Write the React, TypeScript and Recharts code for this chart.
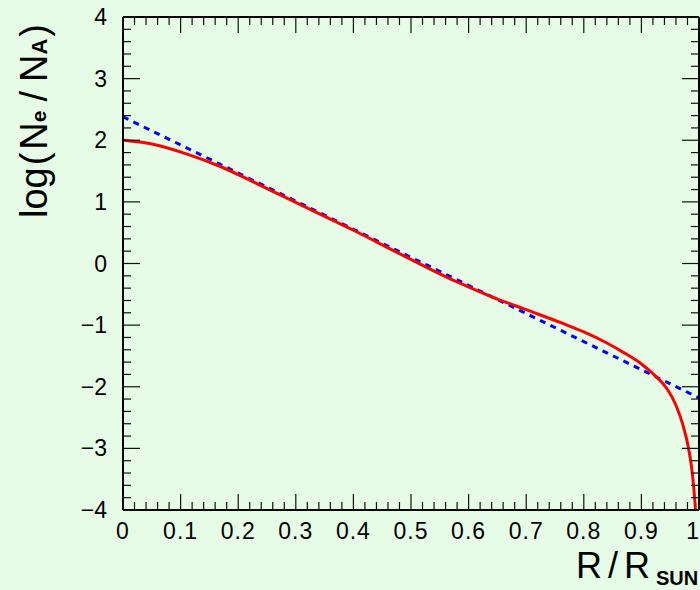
import React from 'react';
import { LineChart, Line, XAxis, YAxis } from 'recharts';

// electron density profile (log10 Ne/NA) vs fractional solar radius
const redR = [0, 0.05, 0.11, 0.17, 0.225, 0.28, 0.34, 0.4, 0.48, 0.58, 0.64, 0.7, 0.76, 0.8, 0.84, 0.87, 0.9, 0.926, 0.945, 0.96, 0.972, 0.981, 0.987, 0.991, 0.994];
const redLog = [2.0, 1.94, 1.78, 1.57, 1.33, 1.08, 0.81, 0.54, 0.16, -0.3, -0.54, -0.75, -0.96, -1.11, -1.29, -1.45, -1.63, -1.84, -2.04, -2.3, -2.62, -2.96, -3.3, -3.65, -4.0];

// exponential approximation (straight line in log)
const blueR = [0, 1];
const blueLog = [2.38, -2.18];

const xMajorTicks = [0, 0.1, 0.2, 0.3, 0.4, 0.5, 0.6, 0.7, 0.8, 0.9, 1];
const xLabels = ['0', '0.1', '0.2', '0.3', '0.4', '0.5', '0.6', '0.7', '0.8', '0.9', '1'];
const yMajorTicks = [-4, -3, -2, -1, 0, 1, 2, 3, 4];
const yLabels = ['\u22124', '\u22123', '\u22122', '\u22121', '0', '1', '2', '3', '4'];

const redData = redR.map((r, i) => ({ r, v: redLog[i] }));
const blueData = blueR.map((r, i) => ({ r, v: blueLog[i] }));

// minor ticks every 0.02 on x, every 0.2 on y
const xAllTicks = Array.from({ length: 51 }, (_, i) => Math.round(i * 2) / 100);
const yAllTicks = Array.from({ length: 41 }, (_, i) => Math.round((-4 + i * 0.2) * 10) / 10);

const BG = '#e6fce6';
const FONT = '"Liberation Sans", Arial, Helvetica, sans-serif';
const TICK = '#111';

const majorIndex = (list: number[], v: number) => list.findIndex((m) => Math.abs(m - v) < 1e-6);

const BottomTick = (props: any) => {
  const { x, y, payload } = props;
  const idx = majorIndex(xMajorTicks, payload.value);
  const len = idx >= 0 ? 16 : 8;
  const last = idx === xMajorTicks.length - 1;
  return (
    <g>
      <line x1={x} x2={x} y1={y} y2={y - len} stroke={TICK} strokeWidth={1.2} />
      {idx >= 0 && (
        <text
          x={last ? 700 : x}
          y={y + 29}
          textAnchor={last ? 'end' : 'middle'}
          fontSize={23}
          letterSpacing={1}
          fontFamily={FONT}
          fill="#000"
        >
          {xLabels[idx]}
        </text>
      )}
    </g>
  );
};

const TopTick = (props: any) => {
  const { x, y, payload } = props;
  const len = majorIndex(xMajorTicks, payload.value) >= 0 ? 16 : 8;
  return <line x1={x} x2={x} y1={y} y2={y + len} stroke={TICK} strokeWidth={1.2} />;
};

const LeftTick = (props: any) => {
  const { x, y, payload } = props;
  const idx = majorIndex(yMajorTicks, payload.value);
  const len = idx >= 0 ? 17 : 8;
  return (
    <g>
      <line x1={x} x2={x + len} y1={y} y2={y} stroke={TICK} strokeWidth={1.2} />
      {idx >= 0 && (
        <text x={x - 16} y={y + 8} textAnchor="end" fontSize={23} fontFamily={FONT} fill="#000">
          {yLabels[idx]}
        </text>
      )}
    </g>
  );
};

const RightTick = (props: any) => {
  const { x, y, payload } = props;
  const len = majorIndex(yMajorTicks, payload.value) >= 0 ? 17 : 8;
  return <line x1={x} x2={x - len} y1={y} y2={y} stroke={TICK} strokeWidth={1.2} />;
};

const frame = { stroke: '#000', strokeWidth: 2 };

export default function App() {
  return (
    <div style={{ position: 'absolute', left: 0, top: 0, width: 700, height: 590, background: BG, overflow: 'hidden' }}>
      <LineChart width={700} height={590} margin={{ top: 0, right: 0, bottom: 0, left: 0 }}>
        <XAxis
          dataKey="r"
          type="number"
          domain={[0, 1]}
          ticks={xAllTicks}
          interval={0}
          tickSize={0}
          tickMargin={0}
          tickLine={false}
          axisLine={frame}
          tick={<BottomTick />}
          height={80}
          allowDataOverflow
        />
        <XAxis
          xAxisId="top"
          orientation="top"
          dataKey="r"
          type="number"
          domain={[0, 1]}
          ticks={xAllTicks}
          interval={0}
          tickSize={0}
          tickMargin={0}
          tickLine={false}
          axisLine={frame}
          tick={<TopTick />}
          height={17}
          allowDataOverflow
        />
        <YAxis
          type="number"
          domain={[-4, 4]}
          ticks={yAllTicks}
          interval={0}
          tickSize={0}
          tickMargin={0}
          tickLine={false}
          axisLine={frame}
          tick={<LeftTick />}
          width={123}
          allowDataOverflow
        />
        <YAxis
          yAxisId="right"
          orientation="right"
          type="number"
          domain={[-4, 4]}
          ticks={yAllTicks}
          interval={0}
          tickSize={0}
          tickMargin={0}
          tickLine={false}
          axisLine={frame}
          tick={<RightTick />}
          width={1}
          allowDataOverflow
        />
        <Line
          data={blueData}
          dataKey="v"
          type="linear"
          stroke="#0000ff"
          strokeWidth={3}
          strokeDasharray="6 5.6"
          dot={false}
          isAnimationActive={false}
        />
        <Line
          data={redData}
          dataKey="v"
          type="monotone"
          stroke="#ff0000"
          strokeWidth={3}
          dot={false}
          isAnimationActive={false}
        />
      </LineChart>
      <svg width={700} height={590} style={{ position: 'absolute', left: 0, top: 0, pointerEvents: 'none' }}>
        <text transform="translate(47,121) rotate(-90)" textAnchor="middle" fontFamily={FONT} fontSize={38} fill="#000">
          log
          <tspan dx={2}>(</tspan>
          <tspan dx={3}>N</tspan>
          <tspan fontSize={21} fontWeight="bold" dy={-1}>e</tspan>
          <tspan dy={1} dx={9}>/</tspan>
          <tspan dx={9}>N</tspan>
          <tspan fontSize={22} fontWeight="bold">A</tspan>
          <tspan dx={2}>)</tspan>
        </text>
        <text x={576} y={578} fontFamily={FONT} fontSize={36} fill="#000" textLength={74} lengthAdjust="spacing">
          R/R
        </text>
        <text x={656} y={585} fontFamily={FONT} fontSize={20} fontWeight="bold" fill="#000">
          SUN
        </text>
      </svg>
    </div>
  );
}
